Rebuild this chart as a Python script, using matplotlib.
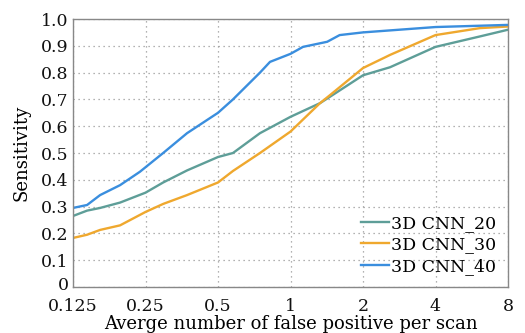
import matplotlib
matplotlib.use("Agg")
import matplotlib.pyplot as plt
from matplotlib.ticker import FixedLocator, FixedFormatter, NullLocator
from matplotlib.transforms import ScaledTranslation

# Data
x_ticks = [0.125, 0.25, 0.5, 1, 2, 4, 8]
x_tick_labels = ["0.125", "0.25", "0.5", "1", "2", "4", "8"]
y_ticks = [0, 0.1, 0.2, 0.3, 0.4, 0.5, 0.6, 0.7, 0.8, 0.9, 1.0]
y_tick_labels = ["0", "0.1", "0.2", "0.3", "0.4", "0.5", "0.6", "0.7", "0.8", "0.9", "1.0"]

cnn20_x = [0.125, 0.143, 0.162, 0.196, 0.25, 0.296, 0.372, 0.5, 0.577, 0.747, 1.0, 1.326, 1.459, 2.0, 2.59, 4.0, 6.12, 8.0]
cnn20_y = [0.265, 0.285, 0.295, 0.315, 0.352, 0.39, 0.435, 0.485, 0.50, 0.574, 0.635, 0.686, 0.71, 0.79, 0.82, 0.896, 0.935, 0.96]

cnn30_x = [0.125, 0.143, 0.162, 0.196, 0.25, 0.296, 0.372, 0.5, 0.577, 0.747, 1.0, 1.326, 1.459, 2.0, 2.59, 4.0, 6.12, 8.0]
cnn30_y = [0.183, 0.195, 0.213, 0.23, 0.28, 0.31, 0.343, 0.39, 0.433, 0.50, 0.58, 0.686, 0.716, 0.817, 0.866, 0.94, 0.966, 0.972]

cnn40_x = [0.125, 0.143, 0.162, 0.196, 0.237, 0.296, 0.372, 0.5, 0.577, 0.747, 0.822, 1.0, 1.127, 1.42, 1.6, 2.0, 4.0, 8.0]
cnn40_y = [0.295, 0.306, 0.343, 0.38, 0.43, 0.50, 0.574, 0.65, 0.70, 0.80, 0.84, 0.87, 0.896, 0.915, 0.94, 0.95, 0.97, 0.978]

series_labels = ["3D CNN_20", "3D CNN_30", "3D CNN_40"]
colors = ["#5e9e98", "#efa82e", "#3a8ede"]

plt.rcParams["font.family"] = ["DejaVu Serif"]

fig = plt.figure(figsize=(5.25, 3.33), dpi=100)
ax = fig.add_axes([73/525, 1 - 287/333, 435/525, 268/333])

for xs, ys, c, lab in zip([cnn20_x, cnn30_x, cnn40_x], [cnn20_y, cnn30_y, cnn40_y], colors, series_labels):
    ax.plot(xs, ys, color=c, lw=1.7, label=lab)

ax.set_xscale("log", base=2)
ax.set_xlim(0.125, 8)
ax.set_ylim(0, 1.0)
ax.xaxis.set_major_locator(FixedLocator(x_ticks))
ax.xaxis.set_major_formatter(FixedFormatter(x_tick_labels))
ax.xaxis.set_minor_locator(NullLocator())
ax.yaxis.set_major_locator(FixedLocator(y_ticks))
ax.yaxis.set_major_formatter(FixedFormatter(y_tick_labels))
ax.tick_params(axis="both", length=0, labelsize=12.5, colors="#111111")
ax.tick_params(axis="x", pad=8)
ax.tick_params(axis="y", pad=3)
ax.grid(True, linestyle=(0, (1, 3)), color="#999999", lw=0.9)
for s in ax.spines.values():
    s.set_color("#888888")
    s.set_linewidth(1.0)

# nudge the "0" label slightly upward, as in the reference
zero_lab = ax.yaxis.get_major_ticks()[0].label1
zero_lab.set_transform(zero_lab.get_transform() + ScaledTranslation(0, 4/100, fig.dpi_scale_trans))

ax.set_xlabel("Averge number of false positive per scan", fontsize=13, labelpad=0)
ax.set_ylabel("Sensitivity", fontsize=13, labelpad=8)

leg = ax.legend(loc="lower right", frameon=False, fontsize=12.5, handlelength=1.6,
                handletextpad=0.1, labelspacing=0.25, borderaxespad=0.3)

fig.savefig("out.png", dpi=100)
